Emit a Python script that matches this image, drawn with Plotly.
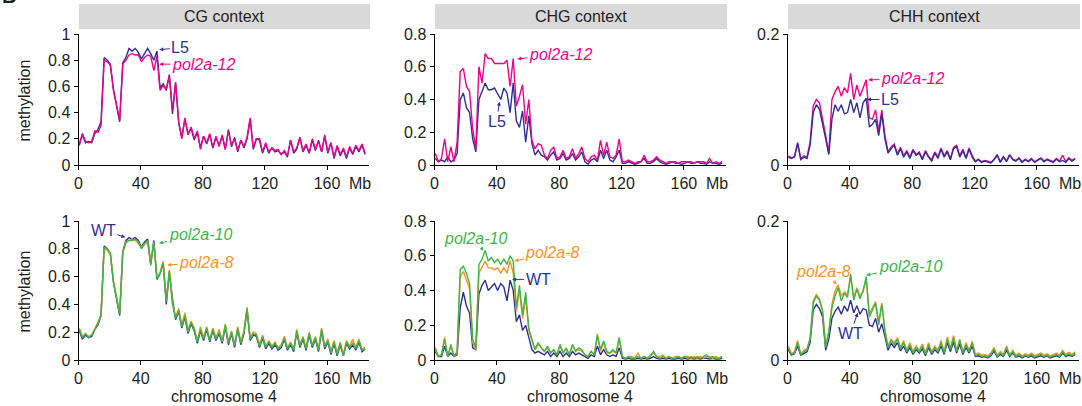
import plotly.graph_objects as go

W, H = 1082, 406

# bin centres along chromosome 4 (Mb), 2-Mb bins
MB = [0.5 + 2 * i for i in range(93)]

# ---------------- top row: L5 vs pol2a-12 ----------------
CG_L5 = [0.15, 0.23, 0.17, 0.18, 0.17, 0.24, 0.27, 0.33, 0.82, 0.80,
         0.77, 0.58, 0.45, 0.33, 0.78, 0.82, 0.89, 0.87, 0.89, 0.86,
         0.81, 0.85, 0.89, 0.85, 0.80, 0.87, 0.59, 0.62, 0.57, 0.69,
         0.39, 0.63, 0.32, 0.21, 0.35, 0.24, 0.28, 0.19, 0.25, 0.13,
         0.22, 0.16, 0.23, 0.13, 0.21, 0.15, 0.22, 0.12, 0.27, 0.14,
         0.21, 0.10, 0.19, 0.13, 0.20, 0.35, 0.12, 0.20, 0.19, 0.09,
         0.16, 0.09, 0.13, 0.10, 0.11, 0.08, 0.10, 0.06, 0.19, 0.09,
         0.12, 0.21, 0.10, 0.15, 0.09, 0.19, 0.11, 0.19, 0.10, 0.22,
         0.09, 0.17, 0.05, 0.14, 0.07, 0.12, 0.05, 0.13, 0.08, 0.14,
         0.10, 0.15, 0.08]
CG_P12 = [0.16, 0.24, 0.18, 0.17, 0.18, 0.26, 0.25, 0.30, 0.80, 0.79,
          0.76, 0.57, 0.46, 0.34, 0.77, 0.80, 0.84, 0.85, 0.84, 0.84,
          0.79, 0.82, 0.84, 0.83, 0.72, 0.83, 0.57, 0.61, 0.58, 0.68,
          0.41, 0.63, 0.33, 0.20, 0.36, 0.23, 0.29, 0.20, 0.26, 0.12,
          0.22, 0.17, 0.24, 0.13, 0.22, 0.14, 0.23, 0.12, 0.26, 0.15,
          0.20, 0.11, 0.19, 0.14, 0.21, 0.36, 0.13, 0.20, 0.20, 0.10,
          0.17, 0.10, 0.13, 0.11, 0.12, 0.08, 0.11, 0.07, 0.19, 0.10,
          0.13, 0.21, 0.11, 0.16, 0.09, 0.20, 0.12, 0.18, 0.10, 0.23,
          0.10, 0.17, 0.06, 0.15, 0.08, 0.13, 0.06, 0.14, 0.09, 0.15,
          0.11, 0.16, 0.09]
CHG_L5 = [0.04, 0.02, 0.03, 0.02, 0.05, 0.02, 0.03, 0.07, 0.40, 0.44,
          0.35, 0.32, 0.16, 0.08, 0.40, 0.45, 0.50, 0.46, 0.46, 0.47,
          0.43, 0.40, 0.47, 0.44, 0.32, 0.50, 0.27, 0.23, 0.33, 0.14,
          0.30, 0.13, 0.06, 0.09, 0.06, 0.05, 0.03, 0.06, 0.08, 0.03,
          0.04, 0.07, 0.03, 0.04, 0.07, 0.03, 0.05, 0.08, 0.02, 0.005,
          0.03, 0.04, 0.02, 0.09, 0.04, 0.09, 0.03, 0.02, 0.05, 0.09,
          0.01, 0.01, 0.02, 0.01, 0.005, 0.01, 0.02, 0.04, 0.01, 0.01,
          0.02, 0.04, 0.02, 0.01, 0.005, 0.01, 0.02, 0.01, 0.01, 0.005,
          0.01, 0.02, 0.01, 0.01, 0.02, 0.01, 0.01, 0.005, 0.02, 0.01,
          0.01, 0.005, 0.01]
CHG_P12 = [0.07, 0.02, 0.04, 0.16, 0.02, 0.11, 0.02, 0.14, 0.57, 0.59,
           0.48, 0.45, 0.22, 0.10, 0.60, 0.50, 0.68, 0.65, 0.65, 0.62,
           0.62, 0.62, 0.62, 0.64, 0.48, 0.65, 0.36, 0.42, 0.49, 0.25,
           0.40, 0.15, 0.10, 0.13, 0.12, 0.06, 0.04, 0.09, 0.11, 0.04,
           0.05, 0.09, 0.04, 0.05, 0.10, 0.04, 0.07, 0.11, 0.04, 0.02,
           0.05, 0.06, 0.03, 0.15, 0.06, 0.14, 0.05, 0.04, 0.06, 0.16,
           0.02, 0.02, 0.03, 0.02, 0.01, 0.02, 0.02, 0.06, 0.02, 0.02,
           0.03, 0.05, 0.03, 0.02, 0.01, 0.02, 0.02, 0.02, 0.01, 0.02,
           0.02, 0.02, 0.02, 0.01, 0.02, 0.02, 0.02, 0.01, 0.04, 0.01,
           0.02, 0.01, 0.02]
CHH_L5 = [0.012, 0.010, 0.013, 0.033, 0.008, 0.012, 0.010, 0.030, 0.080, 0.092,
          0.085, 0.065, 0.040, 0.016, 0.070, 0.092, 0.082, 0.092, 0.078, 0.080,
          0.100, 0.080, 0.095, 0.072, 0.095, 0.102, 0.058, 0.062, 0.070, 0.045,
          0.078, 0.040, 0.018, 0.025, 0.030, 0.015, 0.025, 0.012, 0.020, 0.010,
          0.022, 0.015, 0.018, 0.008, 0.020, 0.012, 0.006, 0.018, 0.010, 0.024,
          0.012, 0.020, 0.008, 0.025, 0.028, 0.012, 0.022, 0.010, 0.024, 0.012,
          0.005, 0.008, 0.004, 0.006, 0.005, 0.003, 0.008, 0.015, 0.004, 0.012,
          0.005, 0.015, 0.008, 0.006, 0.010, 0.004, 0.008, 0.005, 0.009, 0.004,
          0.007, 0.010, 0.005, 0.008, 0.006, 0.004, 0.009, 0.005, 0.007, 0.004,
          0.010, 0.006, 0.009]
CHH_P12 = [0.014, 0.011, 0.012, 0.034, 0.010, 0.014, 0.012, 0.035, 0.090, 0.100,
           0.095, 0.072, 0.045, 0.018, 0.100, 0.112, 0.120, 0.105, 0.118, 0.110,
           0.140, 0.100, 0.122, 0.105, 0.118, 0.130, 0.072, 0.070, 0.084, 0.052,
           0.084, 0.045, 0.020, 0.028, 0.032, 0.017, 0.027, 0.014, 0.022, 0.012,
           0.024, 0.016, 0.020, 0.010, 0.022, 0.013, 0.008, 0.020, 0.012, 0.026,
           0.014, 0.022, 0.009, 0.027, 0.030, 0.014, 0.024, 0.011, 0.026, 0.014,
           0.006, 0.009, 0.005, 0.007, 0.006, 0.004, 0.009, 0.016, 0.005, 0.013,
           0.006, 0.016, 0.009, 0.007, 0.011, 0.005, 0.009, 0.006, 0.010, 0.005,
           0.008, 0.011, 0.006, 0.009, 0.007, 0.005, 0.010, 0.006, 0.015, 0.005,
           0.011, 0.007, 0.010]

# ---------------- bottom row: WT, pol2a-8, pol2a-10 ----------------
B_CG_WT = [0.21, 0.15, 0.18, 0.16, 0.17, 0.22, 0.25, 0.32, 0.82, 0.80,
           0.76, 0.56, 0.44, 0.32, 0.78, 0.86, 0.88, 0.87, 0.88, 0.86,
           0.81, 0.85, 0.87, 0.69, 0.86, 0.58, 0.62, 0.70, 0.40, 0.63,
           0.44, 0.29, 0.35, 0.23, 0.31, 0.19, 0.26, 0.21, 0.12, 0.21,
           0.14, 0.22, 0.13, 0.21, 0.14, 0.19, 0.12, 0.24, 0.11, 0.19,
           0.09, 0.22, 0.11, 0.19, 0.36, 0.14, 0.18, 0.17, 0.09, 0.16,
           0.08, 0.12, 0.08, 0.11, 0.07, 0.09, 0.15, 0.07, 0.11, 0.06,
           0.20, 0.09, 0.15, 0.07, 0.18, 0.09, 0.15, 0.06, 0.21, 0.08,
           0.13, 0.04, 0.12, 0.03, 0.11, 0.03, 0.12, 0.08, 0.11, 0.07,
           0.13, 0.06, 0.08]
B_CG_8 = [0.23, 0.17, 0.19, 0.17, 0.18, 0.23, 0.27, 0.32, 0.80, 0.79,
          0.76, 0.57, 0.46, 0.34, 0.78, 0.84, 0.86, 0.87, 0.86, 0.84,
          0.81, 0.83, 0.85, 0.70, 0.84, 0.59, 0.63, 0.71, 0.44, 0.65,
          0.41, 0.31, 0.37, 0.25, 0.34, 0.22, 0.28, 0.23, 0.14, 0.24,
          0.16, 0.24, 0.15, 0.23, 0.16, 0.22, 0.14, 0.26, 0.13, 0.21,
          0.11, 0.24, 0.13, 0.21, 0.38, 0.16, 0.20, 0.19, 0.11, 0.18,
          0.10, 0.14, 0.10, 0.13, 0.09, 0.11, 0.17, 0.09, 0.13, 0.08,
          0.22, 0.11, 0.17, 0.09, 0.20, 0.11, 0.17, 0.08, 0.23, 0.10,
          0.15, 0.06, 0.14, 0.05, 0.13, 0.04, 0.14, 0.10, 0.15, 0.09,
          0.15, 0.08, 0.09]
B_CG_10 = [0.22, 0.16, 0.19, 0.16, 0.18, 0.22, 0.26, 0.33, 0.81, 0.80,
           0.77, 0.56, 0.45, 0.33, 0.77, 0.85, 0.86, 0.86, 0.87, 0.85,
           0.80, 0.84, 0.86, 0.68, 0.85, 0.58, 0.62, 0.70, 0.42, 0.64,
           0.40, 0.30, 0.36, 0.24, 0.32, 0.20, 0.27, 0.22, 0.13, 0.22,
           0.15, 0.23, 0.14, 0.22, 0.15, 0.20, 0.13, 0.25, 0.12, 0.20,
           0.10, 0.23, 0.12, 0.20, 0.37, 0.15, 0.19, 0.18, 0.10, 0.17,
           0.09, 0.13, 0.09, 0.12, 0.08, 0.10, 0.16, 0.08, 0.12, 0.07,
           0.21, 0.10, 0.16, 0.08, 0.19, 0.10, 0.16, 0.07, 0.22, 0.09,
           0.14, 0.05, 0.13, 0.04, 0.12, 0.03, 0.13, 0.09, 0.12, 0.08,
           0.14, 0.07, 0.08]
B_CHG_WT = [0.05, 0.02, 0.02, 0.08, 0.02, 0.04, 0.02, 0.03, 0.30, 0.39,
            0.31, 0.27, 0.07, 0.06, 0.38, 0.43, 0.46, 0.40, 0.42, 0.44,
            0.40, 0.44, 0.42, 0.34, 0.46, 0.40, 0.22, 0.26, 0.17, 0.20,
            0.13, 0.06, 0.04, 0.05, 0.04, 0.03, 0.05, 0.02, 0.04, 0.02,
            0.05, 0.02, 0.04, 0.02, 0.05, 0.03, 0.04, 0.03, 0.02, 0.01,
            0.03, 0.02, 0.08, 0.03, 0.06, 0.03, 0.02, 0.03, 0.02, 0.07,
            0.01, 0.005, 0.01, 0.005, 0.005, 0.01, 0.005, 0.01, 0.005, 0.01,
            0.02, 0.01, 0.005, 0.01, 0.005, 0.01, 0.005, 0.005, 0.01, 0.005,
            0.01, 0.005, 0.01, 0.005, 0.01, 0.005, 0.01, 0.01, 0.005, 0.01,
            0.005, 0.005, 0.01]
B_CHG_8 = [0.06, 0.02, 0.03, 0.13, 0.02, 0.08, 0.02, 0.04, 0.48, 0.51,
           0.46, 0.41, 0.10, 0.06, 0.50, 0.54, 0.57, 0.53, 0.53, 0.52,
           0.53, 0.50, 0.53, 0.50, 0.57, 0.50, 0.28, 0.40, 0.24, 0.36,
           0.17, 0.11, 0.06, 0.09, 0.07, 0.05, 0.07, 0.04, 0.06, 0.03,
           0.08, 0.04, 0.06, 0.03, 0.08, 0.05, 0.06, 0.05, 0.03, 0.02,
           0.05, 0.03, 0.15, 0.05, 0.10, 0.04, 0.04, 0.05, 0.04, 0.12,
           0.02, 0.01, 0.02, 0.02, 0.01, 0.04, 0.01, 0.02, 0.01, 0.03,
           0.04, 0.02, 0.02, 0.03, 0.01, 0.02, 0.01, 0.02, 0.02, 0.01,
           0.02, 0.02, 0.01, 0.02, 0.01, 0.02, 0.01, 0.02, 0.02, 0.01,
           0.02, 0.01, 0.02]
B_CHG_10 = [0.07, 0.02, 0.03, 0.12, 0.02, 0.09, 0.02, 0.05, 0.52, 0.54,
            0.50, 0.44, 0.12, 0.07, 0.55, 0.58, 0.63, 0.57, 0.59, 0.56,
            0.58, 0.55, 0.58, 0.55, 0.60, 0.57, 0.30, 0.43, 0.26, 0.39,
            0.18, 0.12, 0.06, 0.10, 0.07, 0.05, 0.08, 0.04, 0.06, 0.03,
            0.09, 0.04, 0.07, 0.03, 0.09, 0.05, 0.07, 0.06, 0.03, 0.02,
            0.05, 0.03, 0.14, 0.06, 0.11, 0.05, 0.04, 0.06, 0.04, 0.13,
            0.02, 0.01, 0.02, 0.01, 0.01, 0.02, 0.01, 0.02, 0.01, 0.02,
            0.05, 0.02, 0.01, 0.02, 0.01, 0.02, 0.01, 0.01, 0.02, 0.01,
            0.02, 0.01, 0.02, 0.01, 0.02, 0.01, 0.02, 0.03, 0.01, 0.02,
            0.01, 0.01, 0.02]
B_CHH_WT = [0.015, 0.007, 0.009, 0.020, 0.007, 0.010, 0.012, 0.025, 0.072, 0.080,
            0.074, 0.062, 0.014, 0.030, 0.060, 0.070, 0.076, 0.066, 0.078, 0.070,
            0.086, 0.068, 0.078, 0.066, 0.074, 0.072, 0.050, 0.048, 0.060, 0.040,
            0.052, 0.034, 0.014, 0.024, 0.018, 0.025, 0.013, 0.020, 0.010, 0.018,
            0.008, 0.015, 0.010, 0.016, 0.006, 0.018, 0.008, 0.015, 0.010, 0.020,
            0.008, 0.025, 0.012, 0.026, 0.010, 0.023, 0.008, 0.018, 0.010, 0.020,
            0.005, 0.006, 0.004, 0.005, 0.003, 0.006, 0.013, 0.004, 0.008, 0.005,
            0.014, 0.005, 0.010, 0.004, 0.006, 0.003, 0.006, 0.004, 0.006, 0.003,
            0.005, 0.006, 0.004, 0.006, 0.003, 0.005, 0.006, 0.004, 0.010, 0.005,
            0.007, 0.005, 0.008]
B_CHH_8 = [0.020, 0.009, 0.012, 0.028, 0.009, 0.014, 0.016, 0.032, 0.085, 0.094,
           0.088, 0.072, 0.020, 0.042, 0.080, 0.100, 0.108, 0.092, 0.098, 0.094,
           0.120, 0.090, 0.104, 0.092, 0.098, 0.116, 0.066, 0.076, 0.084, 0.055,
           0.082, 0.044, 0.020, 0.030, 0.025, 0.032, 0.018, 0.028, 0.014, 0.025,
           0.012, 0.020, 0.014, 0.023, 0.010, 0.025, 0.012, 0.020, 0.014, 0.028,
           0.012, 0.033, 0.017, 0.035, 0.014, 0.030, 0.012, 0.025, 0.014, 0.027,
           0.008, 0.010, 0.007, 0.008, 0.006, 0.010, 0.018, 0.007, 0.012, 0.008,
           0.020, 0.008, 0.014, 0.007, 0.010, 0.006, 0.009, 0.007, 0.010, 0.006,
           0.008, 0.010, 0.007, 0.009, 0.006, 0.008, 0.010, 0.007, 0.014, 0.008,
           0.011, 0.008, 0.012]
B_CHH_10 = [0.018, 0.008, 0.010, 0.025, 0.008, 0.012, 0.015, 0.030, 0.082, 0.092,
            0.086, 0.070, 0.018, 0.040, 0.075, 0.092, 0.104, 0.085, 0.096, 0.090,
            0.124, 0.086, 0.102, 0.088, 0.100, 0.120, 0.062, 0.072, 0.082, 0.050,
            0.080, 0.040, 0.018, 0.028, 0.022, 0.030, 0.016, 0.025, 0.012, 0.022,
            0.010, 0.018, 0.012, 0.020, 0.008, 0.022, 0.010, 0.018, 0.012, 0.025,
            0.010, 0.030, 0.015, 0.032, 0.012, 0.028, 0.010, 0.022, 0.012, 0.025,
            0.006, 0.008, 0.005, 0.006, 0.004, 0.008, 0.016, 0.005, 0.010, 0.006,
            0.018, 0.006, 0.012, 0.005, 0.008, 0.004, 0.007, 0.005, 0.008, 0.004,
            0.006, 0.008, 0.005, 0.007, 0.004, 0.006, 0.008, 0.005, 0.012, 0.006,
            0.009, 0.006, 0.010]

CONTEXTS = ["CG context", "CHG context", "CHH context"]
Y_MAX = [1.0, 0.8, 0.2]
Y_TICKS = [[0, 0.2, 0.4, 0.6, 0.8, 1], [0, 0.2, 0.4, 0.6, 0.8], [0, 0.2]]
Y_TICKTEXT = [["0", "0.2", "0.4", "0.6", "0.8", "1"],
              ["0", "0.2", "0.4", "0.6", "0.8"], ["0", "0.2"]]
X_TICKS = [0, 40, 80, 120, 160]
X_TICKTEXT = ["0", "40", "80", "120", "160"]

BLUE = "#2e3192"
MAGENTA = "#ec008c"
GREEN = "#3db54a"
ORANGE = "#f7941d"
TXT = "#231f20"
FONT = "Liberation Sans, Arial, sans-serif"

# panel geometry (pixels)
XD = [(78.5, 369.0), (434.5, 726.0), (787.5, 1079.0)]
YD = [(34.0, 165.0), (221.0, 360.0)]
XMAX = 187


def px2x(p):
    return p / W


def px2y(p):
    return 1 - p / H


fig = go.Figure()


def ax_id(k):
    return "" if k == 1 else str(k)


def add(y, color, k):
    fig.add_trace(go.Scatter(
        x=MB, y=y, mode="lines",
        line=dict(color=color, width=1.4),
        xaxis="x" + ax_id(k), yaxis="y" + ax_id(k),
        showlegend=False, hoverinfo="skip"))


# top row
add(CG_L5, BLUE, 1); add(CG_P12, MAGENTA, 1)
add(CHG_L5, BLUE, 2); add(CHG_P12, MAGENTA, 2)
add(CHH_P12, MAGENTA, 3); add(CHH_L5, BLUE, 3)
# bottom row
add(B_CG_WT, BLUE, 4); add(B_CG_8, ORANGE, 4); add(B_CG_10, GREEN, 4)
add(B_CHG_WT, BLUE, 5); add(B_CHG_8, ORANGE, 5); add(B_CHG_10, GREEN, 5)
add(B_CHH_WT, BLUE, 6); add(B_CHH_8, ORANGE, 6); add(B_CHH_10, GREEN, 6)

layout = dict(
    width=W, height=H, autosize=False, margin=dict(l=0, r=0, t=0, b=0, pad=0),
    paper_bgcolor="white", plot_bgcolor="white",
    font=dict(family=FONT, color=TXT, size=16),
    showlegend=False, hovermode=False,
)

for k in range(1, 7):
    col = (k - 1) % 3
    row = (k - 1) // 3
    xd = XD[col]
    yd = YD[row]
    layout["xaxis" + ax_id(k)] = dict(
        domain=[px2x(xd[0]), px2x(xd[1])], range=[0, XMAX],
        anchor="y" + ax_id(k), tickvals=X_TICKS, ticktext=X_TICKTEXT,
        showline=True, linecolor="black", linewidth=1,
        ticks="outside", ticklen=4, tickwidth=1, tickcolor="black",
        showgrid=False, zeroline=False, fixedrange=True, automargin=False,
        tickfont=dict(size=16, family=FONT, color=TXT))
    layout["yaxis" + ax_id(k)] = dict(
        domain=[px2y(yd[1]), px2y(yd[0])], range=[0, Y_MAX[col]],
        anchor="x" + ax_id(k), tickvals=Y_TICKS[col], ticktext=Y_TICKTEXT[col],
        showline=True, linecolor="black", linewidth=1,
        ticks="outside", ticklen=4, tickwidth=1, tickcolor="black",
        showgrid=False, zeroline=False, fixedrange=True, automargin=False,
        tickfont=dict(size=16, family=FONT, color=TXT))

shapes = []
annotations = []

# header strips
for col in range(3):
    x0 = XD[col][0] + 0.5
    x1 = XD[col][1] + 1
    shapes.append(dict(type="rect", xref="paper", yref="paper",
                       x0=px2x(x0), x1=px2x(x1), y0=px2y(29), y1=px2y(4),
                       fillcolor="#d9d9d9", line=dict(width=0), layer="below"))
    annotations.append(dict(text=CONTEXTS[col], xref="paper", yref="paper",
                            x=px2x((x0 + x1) / 2), y=px2y(16.5),
                            xanchor="center", yanchor="middle", showarrow=False,
                            font=dict(size=16, family=FONT, color=TXT)))

# "Mb" unit after last tick label
for k in range(1, 7):
    row = (k - 1) // 3
    annotations.append(dict(text="Mb", xref="x" + ax_id(k), yref="paper",
                            x=181.5, y=px2y(YD[row][1] + 18),
                            xanchor="center", yanchor="middle", showarrow=False,
                            font=dict(size=16, family=FONT, color=TXT)))

# axis titles
for row in range(2):
    annotations.append(dict(text="methylation", xref="paper", yref="paper",
                            x=px2x(24), y=px2y((YD[row][0] + YD[row][1]) / 2 + 1),
                            textangle=-90, xanchor="center", yanchor="middle",
                            showarrow=False, font=dict(size=16, family=FONT, color=TXT)))
for col in range(3):
    annotations.append(dict(text="chromosome 4", xref="paper", yref="paper",
                            x=px2x((XD[col][0] + XD[col][1]) / 2), y=px2y(396),
                            xanchor="center", yanchor="middle", showarrow=False,
                            font=dict(size=16, family=FONT, color=TXT)))

# panel letter (cut at the top edge)
annotations.append(dict(text="<b>B</b>", xref="paper", yref="paper",
                        x=0, y=px2y(9), xanchor="left", yanchor="bottom",
                        showarrow=False, font=dict(size=20, family=FONT, color=TXT)))


def lab(text, color, k, x, y, ax, ay):
    annotations.append(dict(
        text=text, xref="x" + ax_id(k), yref="y" + ax_id(k), x=x, y=y,
        ax=ax, ay=ay, showarrow=True, arrowhead=2, arrowsize=0.8,
        arrowwidth=1, arrowcolor=color, standoff=0,
        font=dict(size=16, family=FONT, color=color)))


lab("L5", BLUE, 1, 52.0, 0.88, 21, -2)
lab("<i>pol2a-12</i>", MAGENTA, 1, 52.0, 0.77, 44, 0)
lab("<i>pol2a-12</i>", MAGENTA, 2, 53.2, 0.647, 43, -5)
lab("L5", BLUE, 2, 41.7, 0.387, -3, 20)
lab("<i>pol2a-12</i>", MAGENTA, 3, 51.9, 0.13, 44, -1)
lab("L5", BLUE, 3, 51.0, 0.10, 23, 0)
lab("WT", BLUE, 4, 30.1, 0.883, -22, -7)
lab("<i>pol2a-10</i>", GREEN, 4, 51.9, 0.84, 41, -9)
lab("<i>pol2a-8</i>", ORANGE, 4, 57.2, 0.683, 39, -3)
lab("<i>pol2a-10</i>", GREEN, 5, 31.4, 0.628, -8, -12)
lab("<i>pol2a-8</i>", ORANGE, 5, 51.3, 0.57, 38, -8)
lab("WT", BLUE, 5, 49.8, 0.464, 26, 0)
lab("<i>pol2a-8</i>", ORANGE, 6, 31.6, 0.109, -14, -13)
lab("<i>pol2a-10</i>", GREEN, 6, 50.4, 0.122, 44, -9)
lab("WT", BLUE, 6, 45.0, 0.068, -7, 21)

layout["shapes"] = shapes
layout["annotations"] = annotations
fig.update_layout(**layout)

RESET = ("document.documentElement.style.margin='0';"
         "document.documentElement.style.padding='0';"
         "document.body.style.margin='0';"
         "document.body.style.padding='0';"
         "document.body.style.overflow='hidden';"
         "document.documentElement.style.overflow='hidden';")

fig.write_html("out.html",
               config={"displayModeBar": False, "staticPlot": True, "responsive": False},
               post_script=RESET)
